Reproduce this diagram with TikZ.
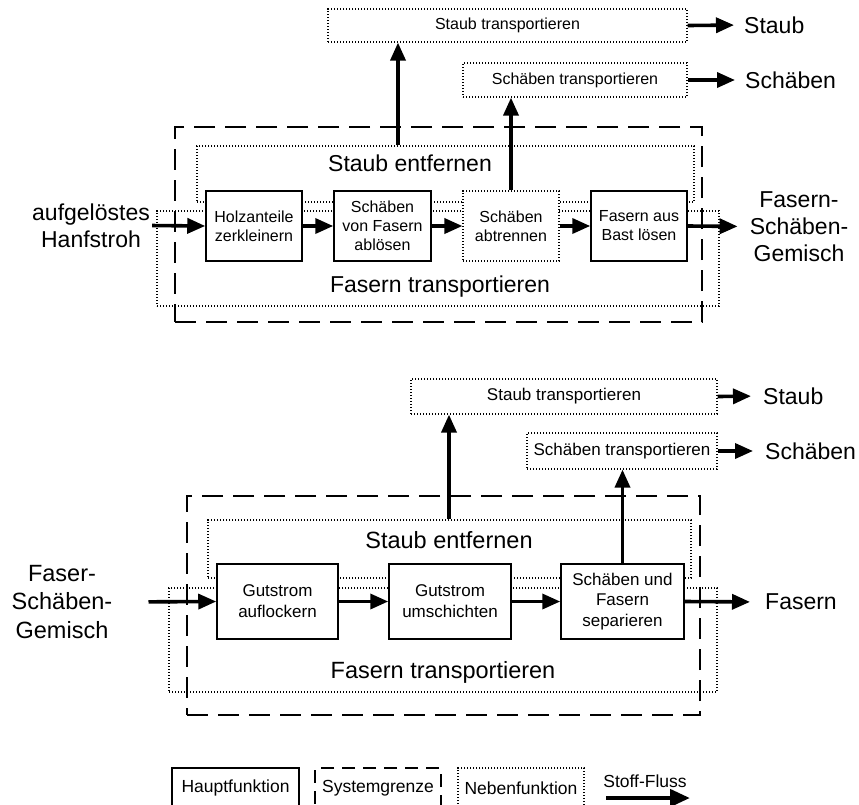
\documentclass[tikz,border=0pt]{standalone}
\usepackage{fontspec}
\setmainfont{Liberation Sans}
\usetikzlibrary{arrows.meta}
\begin{document}
\begin{tikzpicture}[x=1pt,y=-1pt,
  haupt/.style={draw, line width=1.5pt, fill=white, inner sep=0pt, align=center, font=\fontsize{16}{19}\selectfont},
  hauptb/.style={haupt, font=\fontsize{17}{21}\selectfont},
  neben/.style={draw, dash pattern=on 1.2pt off 1.8pt, line width=1.2pt, inner sep=0pt, align=center},
  sysg/.style={draw, dash pattern=on 21pt off 10pt, line width=1.6pt, inner sep=0pt},
  flow/.style={line width=3.6pt, -{Triangle[length=18pt,width=15pt]}},
  big/.style={font=\fontsize{23}{27}\selectfont, align=center, inner sep=0pt},
  bigb/.style={font=\fontsize{23.5}{28.5}\selectfont, align=center, inner sep=0pt},
  small/.style={font=\fontsize{16}{18}\selectfont},
  smallb/.style={font=\fontsize{17}{19}\selectfont},
  legtext/.style={font=\fontsize{17.5}{20}\selectfont},
]
\useasboundingbox (0,0) rectangle (859,804);

% ================= top diagram =================
\node[sysg, minimum width=527pt, minimum height=195pt] (sys1) at (438.5,224.5) {};
\node[neben, minimum width=497pt, minimum height=56pt] (se1) at (445.5,174) {};
\node[neben, minimum width=562pt, minimum height=95pt] (ft1) at (438,258.5) {};
\node[big] (se1t) at (410,163) {Staub entfernen};
\node[big] (ft1t) at (440,287) {Fasern transportieren};

\node[neben, small, minimum width=359pt, minimum height=33pt] (st1) at (507.5,25.5) {Staub transportieren};
\node[neben, small, minimum width=224pt, minimum height=34pt] (sc1) at (575,80) {Schäben transportieren};

\node[haupt, minimum width=96pt, minimum height=70pt] (b11) at (254,226) {Holzanteile\\zerkleinern};
\node[haupt, minimum width=97pt, minimum height=70pt] (b12) at (382.5,226) {Schäben\\von Fasern\\ablösen};
\node[neben, fill=white, font=\fontsize{16}{19}\selectfont, minimum width=96pt, minimum height=70pt] (b13) at (511,226) {Schäben\\abtrennen};
\node[haupt, minimum width=96pt, minimum height=70pt] (b14) at (639,226) {Fasern aus\\Bast lösen};

\node[big] (in1) at (91,225.5) {aufgelöstes\\Hanfstroh};
\node[big] (out1) at (799,226.5) {Fasern-\\Schäben-\\Gemisch};
\node[big, anchor=west] (lst1) at (744,25) {Staub};
\node[big, anchor=west] (lsc1) at (745,80) {Schäben};

\coordinate (ax1) at (398,0);
\draw[flow] (ax1 |- se1.north) -- (ax1 |- st1.south);
\draw[flow] (b13.north) -- (b13.north |- sc1.south);
\draw[flow, shorten <=2pt] (in1.east) -- (b11.west);
\draw[flow] (b11.east) -- (b12.west);
\draw[flow] (b12.east) -- (b13.west);
\draw[flow] (b13.east) -- (b14.west);
\draw[flow, shorten >=12pt] (b14.east) -- (out1.west);
\draw[flow, shorten >=10pt] (st1.east) -- (lst1.west);
\draw[flow, shorten >=10pt] (sc1.east) -- (lsc1.west);

% ================= bottom diagram =================
\node[sysg, minimum width=513pt, minimum height=219pt] (sys2) at (443.5,605.5) {};
\node[neben, minimum width=483pt, minimum height=58pt] (se2) at (449.5,549) {};
\node[neben, minimum width=548pt, minimum height=104pt] (ft2) at (443,640) {};
\node[bigb] (se2t) at (449,540) {Staub entfernen};
\node[bigb] (ft2t) at (443,672) {Fasern transportieren};

\node[neben, smallb, minimum width=306pt, minimum height=35pt] (st2) at (564,396.5) {Staub transportieren};
\node[neben, smallb, minimum width=190pt, minimum height=36pt] (sc2) at (622,451) {Schäben transportieren};

\node[hauptb, minimum width=121pt, minimum height=75pt] (b21) at (277.5,601.5) {Gutstrom\\auflockern};
\node[hauptb, minimum width=122pt, minimum height=75pt] (b22) at (450,601.5) {Gutstrom\\umschichten};
\node[hauptb, font=\fontsize{17}{20.5}\selectfont, minimum width=123pt, minimum height=75pt] (b23) at (622.5,601.5) {Schäben und\\Fasern\\separieren};

\node[bigb] (in2) at (62,602) {Faser-\\Schäben-\\Gemisch};
\node[big, anchor=west] (out2) at (765,602) {Fasern};
\node[big, anchor=west] (lst2) at (763,396) {Staub};
\node[big, anchor=west] (lsc2) at (765,451) {Schäben};

\coordinate (ax2) at (449,0);
\draw[flow] (ax2 |- se2.north) -- (ax2 |- st2.south);
\draw[flow] (b23.north) -- (b23.north |- sc2.south);
\draw[flow, shorten <=36pt] (in2.east) -- (b21.west);
\draw[flow] (b21.east) -- (b22.west);
\draw[flow] (b22.east) -- (b23.west);
\draw[flow, shorten >=15pt] (b23.east) -- (out2.west);
\draw[flow, shorten >=12pt] (st2.east) -- (lst2.west);
\draw[flow, shorten >=12pt] (sc2.east) -- (lsc2.west);

% ================= legend =================
\node[haupt, legtext, minimum width=127pt, minimum height=40pt] (lg1) at (235.5,788) {Hauptfunktion};
\node[sysg, legtext, dash pattern=on 13pt off 8pt, minimum width=126pt, minimum height=40pt] (lg2) at (378,788) {Systemgrenze};
\node[neben, legtext, minimum width=126pt, minimum height=40pt] (lg3) at (521,788) {Nebenfunktion};
\node[legtext] (lg4) at (645,781) {Stoff-Fluss};
\coordinate (l4a) at (606,798);
\coordinate (l4b) at (690,798);
\draw[line width=4.5pt, -{Triangle[length=20pt,width=17pt]}] (l4a) -- (l4b);
\end{tikzpicture}
\end{document}
